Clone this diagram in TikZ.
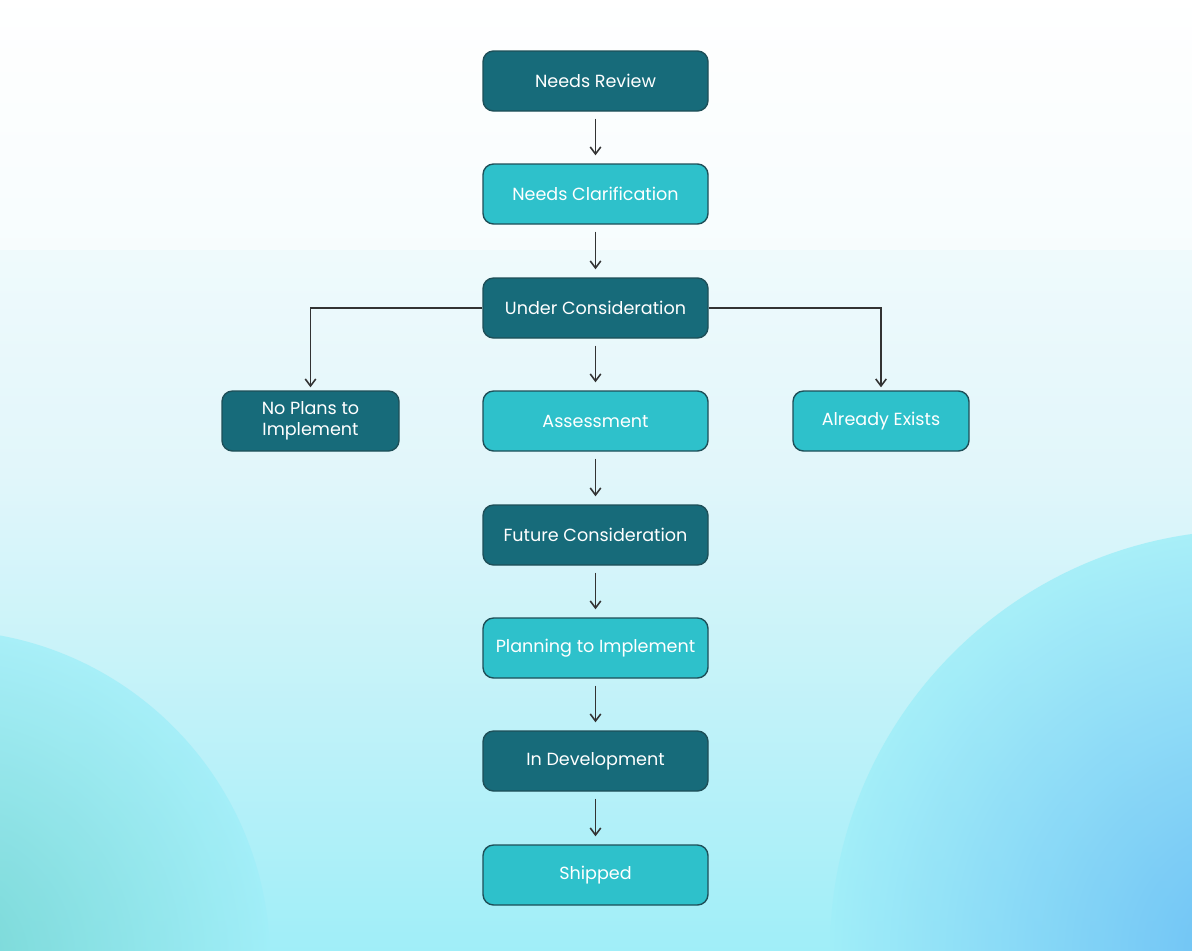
\documentclass[tikz,border=0pt]{standalone}
\usepackage{fontspec}
\setmainfont{Poppins}
\usetikzlibrary{arrows.meta}
\definecolor{dk}{HTML}{176B7A}
\definecolor{lt}{HTML}{2EC1CB}
\definecolor{bdr}{HTML}{1E4F58}
\begin{document}
\begin{tikzpicture}[x=0.02cm,y=-0.02cm,
  box/.style={draw=bdr,line width=0.8pt,rounded corners=6pt,minimum width=225*0.02cm,minimum height=60*0.02cm,text=white,font=\fontsize{10}{12}\selectfont,align=center,inner sep=0pt},
  dbox/.style={box,fill=dk},
  lbox/.style={box,fill=lt},
  arr/.style={-{Straight Barb[length=4pt,width=6pt]},line width=0.9pt,draw=black!80,shorten <=7*0.02cm,shorten >=8*0.02cm}]
\useasboundingbox (0,0) rectangle (1192,950);
\shade[top color=white,bottom color={rgb,255:red,160;green,238;blue,248},middle color={rgb,255:red,225;green,246;blue,250}] (0,0) rectangle (1192,950);
\fill[white,opacity=0.5] (0,0) rectangle (1192,250);
\shade[inner color={rgb,255:red,100;green,185;blue,245},outer color={rgb,255:red,100;green,185;blue,245},opacity=0] (0,0) circle (1);
\begin{scope}
\clip (0,0) rectangle (1192,950);
\shade[inner color={rgb,255:red,100;green,185;blue,245},outer color={rgb,255:red,160;green,238;blue,248},opacity=0.85] (1250,950) circle (420);
\shade[inner color={rgb,255:red,110;green,210;blue,205},outer color={rgb,255:red,160;green,238;blue,248},opacity=0.8] (-60,960) circle (330);
\end{scope}
\node[dbox] (nr) at (595.5,81) {Needs Review};
\node[lbox] (nc) at (595.5,194) {Needs Clarification};
\node[dbox] (uc) at (595.5,308) {Under Consideration};
\node[lbox] (as) at (595.5,421) {Assessment};
\node[dbox] (fc) at (595.5,535) {Future Consideration};
\node[lbox] (pi) at (595.5,648) {Planning to Implement};
\node[dbox] (id) at (595.5,761) {In Development};
\node[lbox] (sh) at (595.5,875) {Shipped};
\node[dbox,minimum width=177*0.02cm] (np) at (310.5,421) {No Plans to\\Implement};
\node[lbox,minimum width=176*0.02cm] (ae) at (881,421) {Already Exists};
\foreach \a/\b in {nr/nc,nc/uc,uc/as,as/fc,fc/pi,pi/id,id/sh}
  \draw[arr] (\a) -- (\b);
\draw[-{Straight Barb[length=4pt,width=6pt]},line width=0.9pt,draw=black!80,shorten >=3*0.02cm] (uc.west) -| (np.north);
\draw[-{Straight Barb[length=4pt,width=6pt]},line width=0.9pt,draw=black!80,shorten >=3*0.02cm] (uc.east) -| (ae.north);
\end{tikzpicture}
\end{document}
